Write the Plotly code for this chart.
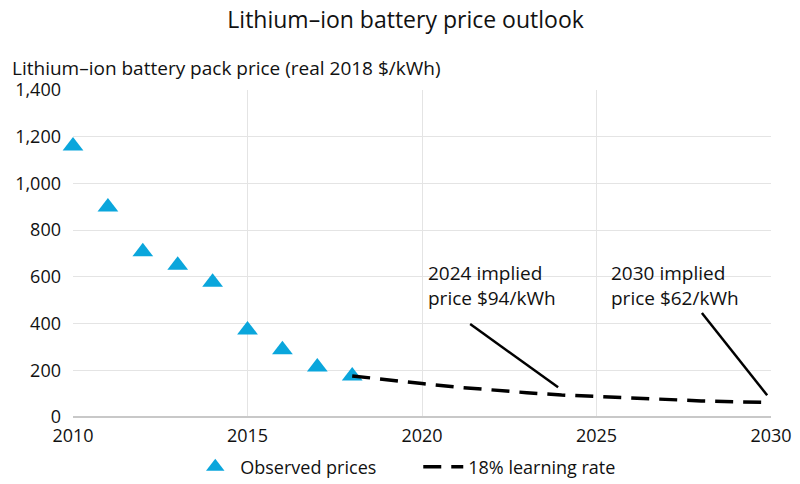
import plotly.graph_objects as go

obs_years = [2010, 2011, 2012, 2013, 2014, 2015, 2016, 2017, 2018]
obs_prices = [1160, 899, 707, 650, 577, 373, 288, 214, 176]

proj_years = [2018, 2019, 2020, 2021, 2022, 2023, 2024, 2025, 2026, 2027, 2028, 2029, 2030]
proj_prices = [176, 158, 143, 128, 115, 104, 94, 87, 80, 74, 69, 65, 62]

y_ticks = [0, 200, 400, 600, 800, 1000, 1200, 1400]
x_ticks = [2010, 2015, 2020, 2025, 2030]

FONT = "Open Sans"
BLUE = "#0aa6dc"
TXT = "#111111"

fig = go.Figure()
fig.add_trace(go.Scatter(
    x=obs_years, y=obs_prices, mode="markers", name="Observed prices",
    marker=dict(symbol="triangle-up", size=18, color=BLUE),
    cliponaxis=False,
))
fig.add_trace(go.Scatter(
    x=proj_years, y=proj_prices, mode="lines", name="18% learning rate",
    line=dict(color="black", width=3.5, dash="18px,10px"),
    cliponaxis=False,
))

# leader lines
fig.add_shape(type="line", x0=2021.38, y0=398, x1=2023.9, y1=127,
              line=dict(color="black", width=2.5))
fig.add_shape(type="line", x0=2028.02, y0=445, x1=2029.89, y1=93,
              line=dict(color="black", width=2.5))
fig.add_annotation(x=2020.11, y=565, xanchor="left", yanchor="middle",
                   text="2024 implied<br>price $94/kWh", showarrow=False, align="left",
                   font=dict(family=FONT, size=19, color=TXT))
fig.add_annotation(x=2025.36, y=565, xanchor="left", yanchor="middle",
                   text="2030 implied<br>price $62/kWh", showarrow=False, align="left",
                   font=dict(family=FONT, size=19, color=TXT))
fig.add_annotation(text="Lithium–ion battery pack price (real 2018 $/kWh)",
                   xref="paper", yref="paper", x=-0.09, y=1.067,
                   xanchor="left", yanchor="middle", showarrow=False,
                   font=dict(family=FONT, size=19, color=TXT))

fig.update_layout(
    width=792, height=476,
    paper_bgcolor="white", plot_bgcolor="white",
    margin=dict(l=65, r=29, t=82, b=67, autoexpand=False),
    font=dict(family=FONT, size=18, color=TXT),
    title=dict(text="Lithium–ion battery price outlook", x=0.502, xanchor="center",
               y=0.974, yanchor="middle", font=dict(family=FONT, size=23, color=TXT)),
    showlegend=True,
    legend=dict(orientation="h", x=0.168, xanchor="left", y=-0.153, yanchor="middle",
                font=dict(family=FONT, size=18, color=TXT),
                entrywidth=173, entrywidthmode="pixels",
                itemwidth=40, bgcolor="rgba(0,0,0,0)"),
)

fig.update_xaxes(range=[2010, 2030], tickvals=x_ticks, ticktext=[str(v) for v in x_ticks],
                 showgrid=True, gridcolor="#e4e4e4", gridwidth=1, automargin=False,
                 showline=False, zeroline=False, ticks="", ticklabelstandoff=6,
                 tickfont=dict(size=18))
fig.update_yaxes(range=[0, 1400], tickvals=y_ticks, tickformat=",", automargin=False,
                 showgrid=True, gridcolor="#e4e4e4", gridwidth=1,
                 showline=False, zeroline=True, zerolinecolor="#c8c8c8", zerolinewidth=1.5,
                 ticks="", ticklabelstandoff=11, tickfont=dict(size=18))

fig.write_html("out.html")
